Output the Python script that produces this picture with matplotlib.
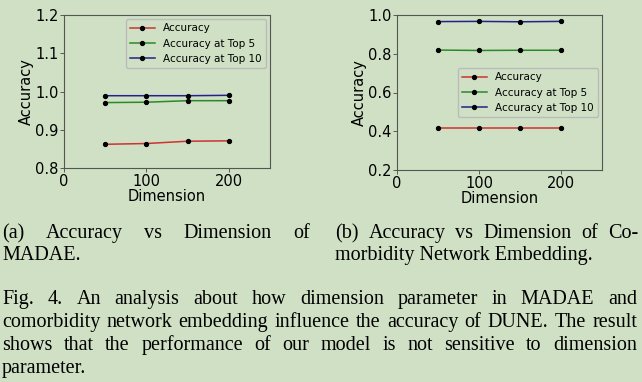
import matplotlib
matplotlib.use("Agg")
import matplotlib.pyplot as plt

# ---- data ----
dims = [50, 100, 150, 200]
series_labels = ["Accuracy", "Accuracy at Top 5", "Accuracy at Top 10"]
madae_acc = [0.862, 0.864, 0.870, 0.871]
madae_top5 = [0.971, 0.972, 0.976, 0.976]
madae_top10 = [0.989, 0.989, 0.989, 0.990]
cne_acc = [0.415, 0.415, 0.415, 0.415]
cne_top5 = [0.819, 0.817, 0.818, 0.818]
cne_top10 = [0.966, 0.967, 0.965, 0.967]
xticks = [0, 100, 200]
yticks_a = [0.8, 0.9, 1.0, 1.1, 1.2]
yticks_b = [0.2, 0.4, 0.6, 0.8, 1.0]

caption_a = ["(a) Accuracy vs Dimension of", "MADAE."]
caption_b = ["(b) Accuracy vs Dimension of Co-", "morbidity Network Embedding."]
fig_caption = [
    "Fig. 4.  An analysis about how dimension parameter in MADAE and",
    "comorbidity network embedding influence the accuracy of DUNE. The result",
    "shows that the performance of our model is not sensitive to dimension",
    "parameter.",
]

BG = "#cfe0c4"
colors = ["#cc3333", "#2a8a2a", "#22228c"]

W, H = 642, 382
fig = plt.figure(figsize=(W / 100, H / 100), dpi=100, facecolor=BG)


def make_ax(px_left, px_top, px_right, px_bottom):
    return fig.add_axes([px_left / W, 1 - px_bottom / H,
                         (px_right - px_left) / W, (px_bottom - px_top) / H])


def style(ax, yticks, ylim):
    ax.set_facecolor(BG)
    ax.set_xlim(0, 250)
    ax.set_ylim(*ylim)
    ax.set_xticks(xticks)
    ax.set_yticks(yticks)
    ax.set_yticklabels([f"{v:.1f}" for v in yticks])
    ax.tick_params(labelsize=10.5, length=3, width=0.6, color="#444444", pad=1)
    for s in ax.spines.values():
        s.set_color("#555555")
        s.set_linewidth(0.8)
    ax.set_xlabel("Dimension", fontsize=10.5, labelpad=0)
    ax.set_ylabel("Accuracy", fontsize=10.5, labelpad=1)


legend_kw = dict(fontsize=7.5, handlelength=2.4, frameon=True, facecolor=BG,
                 edgecolor="#bbbbbb", framealpha=1, borderaxespad=0.4,
                 labelspacing=0.5)

ax1 = make_ax(64, 15, 270, 168)
for ys, c, lab in zip([madae_acc, madae_top5, madae_top10], colors, series_labels):
    ax1.plot(dims, ys, color=c, lw=1.1, marker="o", ms=2.8, mfc="k", mec="k", label=lab)
style(ax1, yticks_a, (0.8, 1.2))
ax1.legend(loc="upper right", **legend_kw)

ax2 = make_ax(397, 15, 602, 170)
for ys, c, lab in zip([cne_acc, cne_top5, cne_top10], colors, series_labels):
    ax2.plot(dims, ys, color=c, lw=1.1, marker="o", ms=2.8, mfc="k", mec="k", label=lab)
style(ax2, yticks_b, (0.2, 1.0))
ax2.legend(loc="center right", **legend_kw)

# ---- captions (justified serif text) ----
SERIF = ["Liberation Serif", "DejaVu Serif"]
FS = 14.5
renderer = fig.canvas.get_renderer()


def word_width(w):
    t = fig.text(0, 0, w, fontsize=FS, family=SERIF)
    bb = t.get_window_extent(renderer=renderer)
    t.remove()
    return bb.width


def put_line(line, x0, x1, y_baseline, justify):
    words = line.split()
    if not justify or len(words) == 1:
        fig.text(x0 / W, 1 - y_baseline / H, line, fontsize=FS, family=SERIF,
                 va="baseline", ha="left")
        return
    widths = [word_width(w) for w in words]
    gap = (x1 - x0 - sum(widths)) / (len(words) - 1)
    x = x0
    for w, wd in zip(words, widths):
        fig.text(x / W, 1 - y_baseline / H, w, fontsize=FS, family=SERIF,
                 va="baseline", ha="left")
        x += wd + gap


put_line(caption_a[0], 2, 310, 238, True)
put_line(caption_a[1], 2, 310, 260, False)
put_line(caption_b[0], 335, 638, 238, True)
put_line(caption_b[1], 335, 638, 260, False)
for i, line in enumerate(fig_caption):
    put_line(line, 2, 637, 304 + 23 * i, i < len(fig_caption) - 1)

fig.savefig("out.png", dpi=100, facecolor=BG)
